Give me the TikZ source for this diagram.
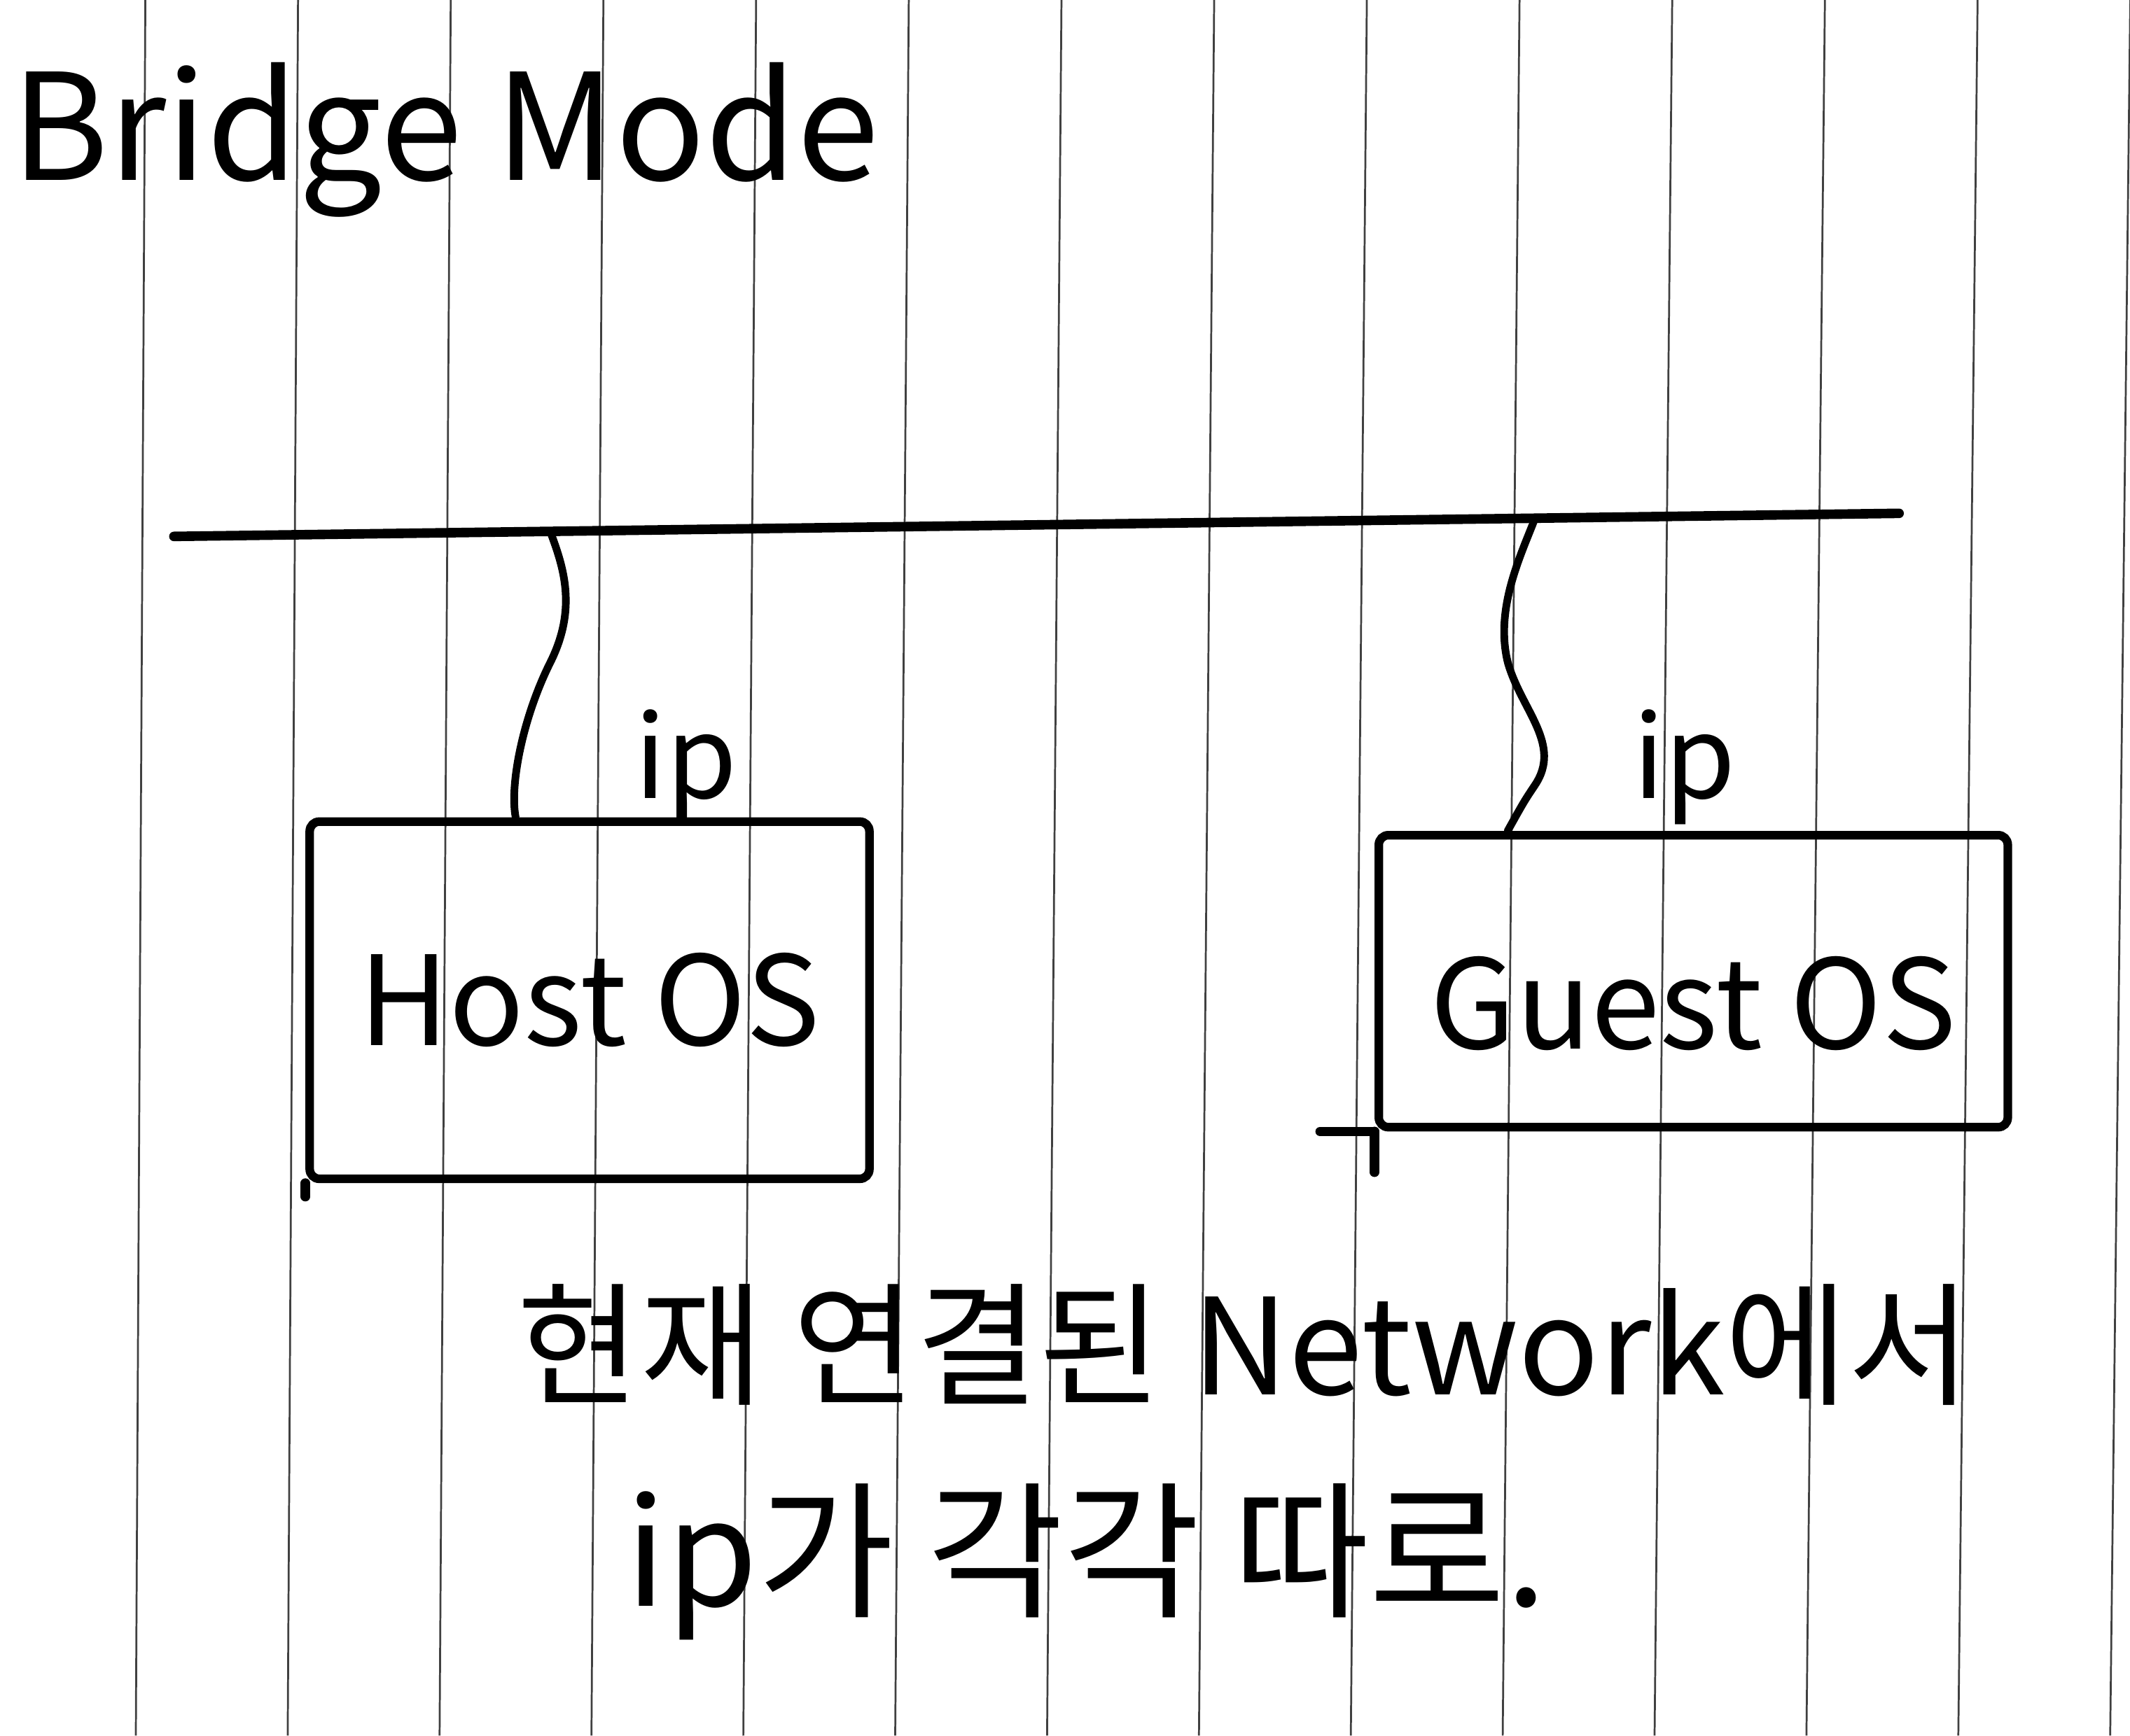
\documentclass[tikz,border=0pt]{standalone}
\usepackage{fontspec}
\setmainfont{Noto Sans CJK KR}
\begin{document}
\begin{tikzpicture}
  \tikzstyle{paper}=[black!75, line width=0.4pt]
  \tikzstyle{wire}=[line width=2pt, line cap=round]
  \tikzstyle{link}=[line width=1.6pt, line cap=round]
  \tikzstyle{os}=[draw, line width=1.8pt, rounded corners=2pt, inner sep=0pt,
                  font=\fontsize{26}{32}\selectfont]
  \tikzstyle{ip}=[inner sep=0pt, font=\fontsize{24}{28}\selectfont]
  \tikzstyle{note}=[inner sep=0pt, anchor=west]

  \useasboundingbox (0,0) rectangle (15.68,12.78);

  % ruled paper
  \foreach \i in {0,...,13}
    \draw[paper] (1.07+1.124*\i, 12.78) -- (1.00+1.118*\i, 0);

  \node[inner sep=0pt, anchor=west, font=\fontsize{31}{38}\selectfont] (title) at (0.08, 11.75) {Bridge Mode};

  \coordinate (busL) at (1.28, 8.83);
  \coordinate (busR) at (13.98, 9.00);
  \coordinate (hostTap)  at (4.05, 8.867);
  \coordinate (guestTap) at (11.30, 8.964);

  \node[os, minimum width=4.12cm, minimum height=2.63cm] (host)  at (4.34,  5.415) {Host OS};
  \node[os, minimum width=4.63cm, minimum height=2.15cm, text height=1.2cm, text depth=0.2cm] (guest) at (12.465, 5.555) {Guest OS};

  \node[ip] (hostIp)  at (5.05,  7.13) {ip};
  \node[ip] (guestIp) at (12.40, 7.13) {ip};

  \node[note, font=\fontsize{28}{34}\selectfont] (line1) at (3.80, 2.88) {현재 연결된 Network에서};
  \node[note, font=\fontsize{31}{38}\selectfont] (line2) at (4.60, 1.28) {ip가 각각 따로.};

  \draw[wire] (busL) -- (busR);
  \draw[link] (hostTap) .. controls (4.15,8.60) and (4.25,8.30) .. (4.05,7.90)
              .. controls (3.85,7.50) and (3.75,7.00) .. (host.112);
  \draw[link] (guestTap) .. controls (11.20,8.70) and (11.00,8.30) .. (11.10,7.90)
              .. controls (11.20,7.55) and (11.50,7.30) .. (11.30,7.00)
              .. controls (11.22,6.88) .. (guest.141);
  \draw[wire] (guest.south west) -- ++(-0.40,0);
  \draw[wire] (guest.south west) -- ++(0,-0.30);
  \draw[wire] (host.south west) -- ++(0,-0.10);
\end{tikzpicture}
\end{document}
